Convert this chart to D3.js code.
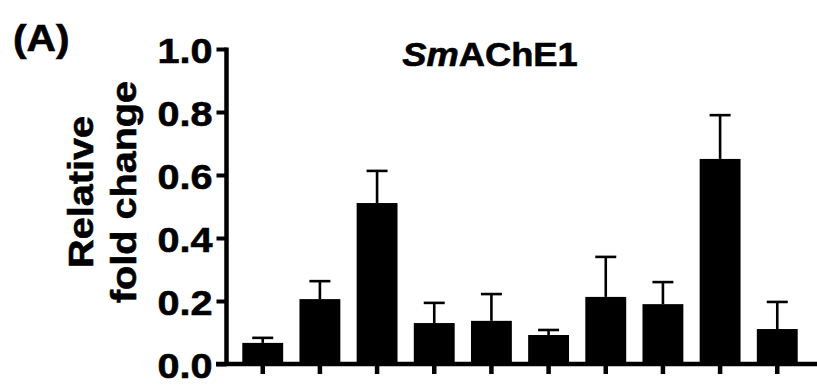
<!DOCTYPE html>
<html>
<head>
<meta charset="utf-8">
<script src="https://cdn.jsdelivr.net/npm/d3@7"></script>
<style>
  body { margin: 0; background: #fff; }
  text { font-family: "Liberation Sans", Arial, sans-serif; font-weight: bold; fill: #000; stroke: #000; stroke-width: 0.6px; }
</style>
</head>
<body>
<div class="chart"></div>
<script>
// ---- data ----
var groups = ["1", "2", "3", "4", "5", "6", "7", "8", "9", "10"];
var means  = [0.067, 0.206, 0.511, 0.130, 0.137, 0.092, 0.213, 0.190, 0.651, 0.111];
var errs   = [0.016, 0.057, 0.102, 0.064, 0.085, 0.016, 0.127, 0.070, 0.139, 0.086];
var yTicks = [0.0, 0.2, 0.4, 0.6, 0.8, 1.0];

var svgWidth = 817;
var svgHeight = 387;

// text in the figure is a bit wider than Arial, stretch along the writing direction
var stretch = 1.1;

var svg = d3.select(".chart")
    .append("svg")
    .attr("width", svgWidth)
    .attr("height", svgHeight);

// scales
var yScale = d3.scaleLinear()
    .domain([0, 1])
    .range([364, 49]);

var xScale = d3.scaleBand()
    .domain(groups)
    .range([226, 814])
    .paddingInner(0.285)
    .paddingOuter(0.285);

// y axis
var leftAxis = d3.axisLeft(yScale)
    .tickValues(yTicks)
    .tickFormat(d3.format(".1f"))
    .tickSize(10)
    .tickSizeOuter(0);

var yAxis = svg.append("g")
    .attr("transform", "translate(226.5,0)")
    .call(leftAxis);

yAxis.select(".domain")
    .attr("stroke", "#000")
    .attr("stroke-width", 4.5)
    .attr("d", "M0," + (yScale(0) + 2) + "V" + (yScale(1) - 1.5));
yAxis.selectAll(".tick line")
    .attr("stroke", "#000")
    .attr("stroke-width", 4);
yAxis.selectAll(".tick text")
    .attr("x", null)
    .attr("dy", null)
    .attr("text-anchor", "end")
    .attr("font-size", 36)
    .attr("transform", "translate(-14,13) scale(" + stretch + ",1)")
    .style("font-family", "'Liberation Sans', Arial, sans-serif")
    .style("font-weight", "bold");

// x axis (ticks only, labels blank)
var bottomAxis = d3.axisBottom(xScale)
    .tickFormat("")
    .tickSize(10)
    .tickSizeOuter(0);

var xAxis = svg.append("g")
    .attr("transform", "translate(0," + yScale(0) + ")")
    .call(bottomAxis);

xAxis.select(".domain").remove();
xAxis.selectAll(".tick line")
    .attr("stroke", "#000")
    .attr("stroke-width", 4.5);

// baseline runs from the 0.0 tick to the right edge
svg.append("line")
    .attr("x1", xScale.range()[0] - 10)
    .attr("x2", svgWidth)
    .attr("y1", yScale(0))
    .attr("y2", yScale(0))
    .attr("stroke", "#000")
    .attr("stroke-width", 4.5);

// bars
var data = groups.map(function (g, i) {
    return { group: g, mean: means[i], err: errs[i] };
});

svg.selectAll(".bar")
    .data(data)
    .enter()
    .append("rect")
    .attr("class", "bar")
    .attr("x", d => xScale(d.group))
    .attr("width", xScale.bandwidth())
    .attr("y", d => yScale(d.mean))
    .attr("height", d => yScale(0) - yScale(d.mean))
    .attr("fill", "#000");

// error bars (upper half only)
var errG = svg.selectAll(".err")
    .data(data)
    .enter()
    .append("g")
    .attr("class", "err")
    .attr("stroke", "#000")
    .attr("stroke-width", 2.6);

errG.append("line")
    .attr("x1", d => xScale(d.group) + xScale.bandwidth() / 2)
    .attr("x2", d => xScale(d.group) + xScale.bandwidth() / 2)
    .attr("y1", d => yScale(d.mean))
    .attr("y2", d => yScale(d.mean + d.err));

errG.append("line")
    .attr("x1", d => xScale(d.group) + xScale.bandwidth() / 2 - 10.5)
    .attr("x2", d => xScale(d.group) + xScale.bandwidth() / 2 + 10.5)
    .attr("y1", d => yScale(d.mean + d.err))
    .attr("y2", d => yScale(d.mean + d.err));

// title
var title = svg.append("text")
    .attr("text-anchor", "middle")
    .attr("font-size", 33)
    .attr("transform", "translate(490,66) scale(" + stretch + ",1)");
title.append("tspan").attr("font-style", "italic").text("Sm");
title.append("tspan").text("AChE1");

// panel letter
svg.append("text")
    .attr("font-size", 37)
    .attr("transform", "translate(13,51) scale(" + stretch + ",1)")
    .text("(A)");

// y axis title, two lines
var yTitle = svg.append("text")
    .attr("text-anchor", "middle")
    .attr("font-size", 36)
    .attr("transform", "translate(93,192) rotate(-90) scale(" + stretch + ",1)");
yTitle.append("tspan").attr("x", 0).attr("y", 0).text("Relative");
yTitle.append("tspan").attr("x", 0).attr("y", 43).text("fold change");
</script>
</body>
</html>
